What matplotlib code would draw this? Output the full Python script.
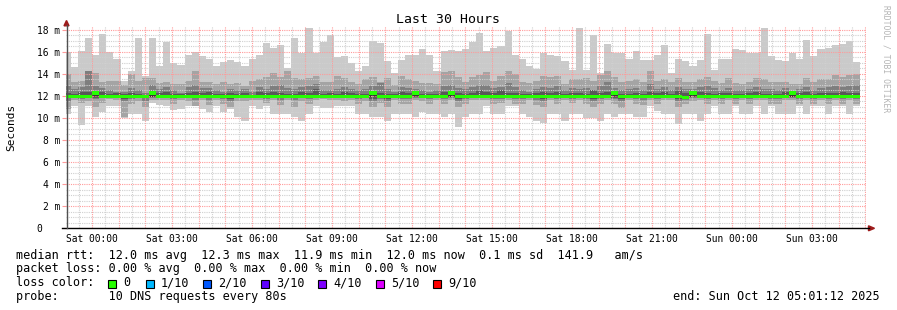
import numpy as np
import matplotlib
matplotlib.use("Agg")
import matplotlib.pyplot as plt
from matplotlib.lines import Line2D
from matplotlib.patches import Polygon, Rectangle

W, H = 897, 310
MONO = "DejaVu Sans Mono"

# 16 minute consolidation steps, time in hours from Sat 00:00
step_edges = np.arange(-4, 109) * 16 / 60
t_start, t_end = -(58.8 / 60), 29 + 1.2 / 60

# sorted pings per step (ms): p10 = max ... p1 = min
p10 = [16.0, 14.6, 16.1, 17.3, 15.75, 17.65, 16.0, 15.4,
       13.35, 14.3, 17.3, 13.8, 17.3, 14.7, 16.95, 15.0,
       14.8, 15.75, 16.0, 15.6, 15.4, 14.7, 15.05, 15.3,
       15.05, 14.7, 15.35, 15.75, 16.8, 16.35, 16.65, 14.5,
       17.3, 15.9, 18.15, 15.9, 16.95, 17.55, 15.55, 15.65,
       15.0, 14.25, 14.75, 17.0, 16.85, 15.2, 14.1, 15.3,
       15.75, 15.75, 16.25, 15.75, 14.25, 16.05, 16.2, 16.05,
       16.25, 16.95, 17.7, 16.05, 16.4, 16.5, 17.9, 15.75,
       15.35, 14.7, 14.45, 15.95, 15.75, 15.65, 15.15, 14.4,
       18.2, 14.35, 17.55, 14.1, 16.75, 15.95, 15.95, 15.35,
       16.05, 15.3, 15.3, 15.75, 16.65, 14.1, 15.4, 15.15,
       14.7, 15.3, 17.65, 14.35, 15.35, 15.35, 16.3, 16.2,
       15.95, 15.95, 18.15, 15.65, 15.3, 15.2, 15.9, 15.35,
       17.1, 15.6, 16.25, 16.4, 16.65, 16.7, 17.0, 15.1]
p9 = [14.0, 13.3, 13.4, 14.3, 14.1, 13.3, 13.4, 13.4,
      13.0, 14.0, 13.4, 13.6, 13.6, 13.2, 13.3, 13.1,
      13.1, 13.4, 14.3, 13.3, 13.3, 13.1, 13.3, 13.1,
      13.2, 12.9, 13.4, 13.5, 13.7, 14.1, 13.7, 14.3,
      13.6, 13.5, 13.6, 13.8, 13.3, 13.3, 13.8, 13.6,
      13.3, 13.1, 13.5, 13.7, 13.3, 13.6, 13.0, 13.8,
      13.5, 13.4, 13.2, 13.2, 13.1, 14.2, 14.3, 13.7,
      13.3, 13.7, 13.9, 14.2, 13.4, 13.8, 14.3, 14.0,
      13.3, 13.2, 13.4, 13.8, 13.7, 13.8, 13.1, 13.5,
      13.5, 13.6, 13.4, 13.9, 14.3, 13.7, 13.3, 13.4,
      13.5, 13.3, 14.3, 13.4, 13.5, 13.3, 13.6, 13.3,
      13.3, 13.5, 13.7, 13.4, 13.2, 13.6, 13.2, 13.1,
      13.3, 13.6, 13.5, 13.3, 13.3, 13.3, 13.1, 13.1,
      13.6, 13.3, 13.5, 13.5, 13.9, 13.7, 13.9, 14.0]
p8 = [12.9, 12.6, 12.8, 14.3, 12.9, 12.7, 12.5, 12.4,
      12.4, 12.7, 12.5, 12.3, 13.0, 12.6, 12.8, 12.5,
      12.3, 12.8, 13.0, 12.7, 12.7, 12.5, 12.4, 12.6,
      12.5, 12.6, 12.4, 12.8, 12.6, 12.9, 13.0, 12.7,
      12.6, 12.8, 12.9, 13.1, 12.5, 12.5, 12.6, 12.8,
      12.6, 12.5, 12.6, 12.9, 13.2, 12.6, 12.4, 12.8,
      12.7, 12.6, 12.5, 12.4, 12.5, 12.9, 13.0, 12.7,
      12.6, 12.8, 13.0, 13.0, 12.7, 12.8, 13.2, 12.8,
      12.5, 12.4, 12.6, 12.8, 12.7, 12.9, 12.5, 12.7,
      12.6, 12.7, 12.5, 12.9, 13.3, 12.7, 12.5, 12.6,
      12.7, 12.5, 13.1, 12.6, 12.8, 12.5, 12.8, 12.6,
      12.6, 12.8, 12.9, 12.7, 12.5, 12.7, 12.5, 12.5,
      12.6, 12.8, 12.6, 12.6, 12.5, 12.7, 12.4, 12.6,
      12.8, 12.5, 12.7, 12.8, 12.9, 12.8, 12.9, 13.0]
p7 = [12.3, 12.2, 12.4, 12.4, 12.35, 12.4, 12.2, 12.3,
      12.2, 12.3, 12.2, 12.1, 12.35, 12.3, 12.4, 12.2,
      12.2, 12.3, 12.4, 12.3, 12.4, 12.2, 12.2, 12.3,
      12.2, 12.3, 12.1, 12.4, 12.3, 12.4, 12.3, 12.2,
      12.2, 12.4, 12.3, 12.6, 12.2, 12.3, 12.2, 12.4,
      12.3, 12.2, 12.2, 12.4, 12.3, 12.2, 12.2, 12.4,
      12.3, 12.4, 12.2, 12.2, 12.2, 12.4, 12.35, 12.3,
      12.2, 12.3, 12.5, 12.4, 12.3, 12.5, 12.3, 12.3,
      12.2, 12.2, 12.3, 12.4, 12.3, 12.4, 12.2, 12.3,
      12.3, 12.2, 12.5, 12.3, 12.4, 12.35, 12.2, 12.2,
      12.3, 12.2, 12.4, 12.3, 12.4, 12.2, 12.5, 12.3,
      12.35, 12.4, 12.3, 12.2, 12.3, 12.3, 12.2, 12.2,
      12.3, 12.4, 12.2, 12.2, 12.2, 12.4, 12.35, 12.3,
      12.4, 12.2, 12.3, 12.3, 12.3, 12.4, 12.3, 12.3]
p6 = [12.04, 12.04, 12.04, 12.04, 12.18, 12.04, 12.04, 12.04,
      12.04, 12.04, 12.04, 12.04, 12.18, 12.04, 12.04, 12.04,
      12.04, 12.04, 12.04, 12.04, 12.04, 12.04, 12.04, 12.04,
      12.04, 12.04, 12.04, 12.04, 12.04, 12.04, 12.04, 12.04,
      12.04, 12.04, 12.04, 12.04, 12.04, 12.04, 12.04, 12.04,
      12.04, 12.04, 12.04, 12.18, 12.04, 12.04, 12.04, 12.04,
      12.04, 12.18, 12.04, 12.04, 12.04, 12.04, 12.18, 12.04,
      12.04, 12.04, 12.04, 12.04, 12.04, 12.04, 12.04, 12.04,
      12.04, 12.04, 12.04, 12.04, 12.04, 12.04, 12.04, 12.04,
      12.04, 12.04, 12.04, 12.04, 12.04, 12.18, 12.04, 12.04,
      12.04, 12.04, 12.04, 12.04, 12.04, 12.04, 12.04, 12.0,
      12.18, 12.04, 12.04, 12.04, 12.04, 12.04, 12.04, 12.04,
      12.04, 12.04, 12.04, 12.04, 12.04, 12.04, 12.18, 12.04,
      12.04, 12.04, 12.04, 12.04, 12.04, 12.04, 12.04, 12.04]
p5 = [11.92, 11.92, 11.92, 11.92, 11.9, 11.92, 11.92, 11.92,
      11.92, 11.92, 11.92, 11.92, 11.9, 11.92, 11.92, 11.92,
      11.92, 11.92, 11.92, 11.92, 11.92, 11.92, 11.92, 11.92,
      11.92, 11.92, 11.92, 11.92, 11.92, 11.92, 11.92, 11.92,
      11.92, 11.92, 11.92, 11.92, 11.92, 11.92, 11.92, 11.92,
      11.92, 11.92, 11.92, 11.9, 11.92, 11.92, 11.92, 11.92,
      11.92, 11.9, 11.92, 11.92, 11.92, 11.92, 11.9, 11.92,
      11.92, 11.92, 11.92, 11.92, 11.92, 11.92, 11.92, 11.92,
      11.92, 11.92, 11.92, 11.92, 11.92, 11.92, 11.92, 11.92,
      11.92, 11.92, 11.92, 11.92, 11.92, 11.9, 11.92, 11.92,
      11.92, 11.92, 11.92, 11.92, 11.92, 11.92, 11.92, 11.8,
      11.9, 11.92, 11.92, 11.92, 11.92, 11.92, 11.92, 11.92,
      11.92, 11.92, 11.92, 11.92, 11.92, 11.92, 11.9, 11.92,
      11.92, 11.92, 11.92, 11.92, 11.92, 11.92, 11.92, 11.92]
p4 = [11.8, 11.88, 11.85, 11.88, 11.85, 11.88, 11.88, 11.88,
      11.7, 11.85, 11.88, 11.8, 11.88, 11.88, 11.88, 11.85,
      11.88, 11.88, 11.8, 11.88, 11.8, 11.88, 11.85, 11.75,
      11.88, 11.88, 11.88, 11.88, 11.85, 11.88, 11.8, 11.88,
      11.8, 11.88, 11.85, 11.88, 11.88, 11.88, 11.88, 11.88,
      11.88, 11.85, 11.88, 11.75, 11.85, 11.75, 11.88, 11.85,
      11.85, 11.88, 11.88, 11.85, 11.88, 11.85, 11.88, 11.75,
      11.85, 11.88, 11.88, 11.88, 11.85, 11.85, 11.88, 11.85,
      11.85, 11.88, 11.8, 11.75, 11.88, 11.85, 11.88, 11.85,
      11.88, 11.85, 11.75, 11.85, 11.88, 11.85, 11.75, 11.88,
      11.85, 11.8, 11.88, 11.85, 11.88, 11.88, 11.75, 11.7,
      11.88, 11.88, 11.85, 11.88, 11.85, 11.88, 11.85, 11.88,
      11.85, 11.88, 11.88, 11.85, 11.85, 11.88, 11.88, 11.85,
      11.88, 11.85, 11.88, 11.85, 11.88, 11.85, 11.88, 11.85]
p3 = [11.5, 11.8, 11.7, 11.8, 11.7, 11.8, 11.85, 11.8,
      11.5, 11.7, 11.8, 11.5, 11.8, 11.8, 11.85, 11.7,
      11.85, 11.8, 11.6, 11.85, 11.6, 11.8, 11.7, 11.5,
      11.8, 11.8, 11.85, 11.8, 11.7, 11.85, 11.6, 11.8,
      11.6, 11.8, 11.7, 11.85, 11.85, 11.8, 11.85, 11.8,
      11.85, 11.7, 11.8, 11.5, 11.7, 11.5, 11.85, 11.7,
      11.7, 11.85, 11.8, 11.7, 11.85, 11.7, 11.8, 11.5,
      11.7, 11.85, 11.8, 11.85, 11.7, 11.7, 11.85, 11.7,
      11.7, 11.8, 11.6, 11.5, 11.85, 11.7, 11.8, 11.7,
      11.85, 11.7, 11.5, 11.7, 11.8, 11.7, 11.5, 11.85,
      11.7, 11.6, 11.85, 11.7, 11.8, 11.85, 11.5, 11.6,
      11.8, 11.85, 11.7, 11.8, 11.7, 11.85, 11.7, 11.85,
      11.7, 11.85, 11.8, 11.7, 11.7, 11.85, 11.8, 11.7,
      11.85, 11.7, 11.8, 11.7, 11.85, 11.7, 11.85, 11.7]
p2 = [10.8, 11.6, 11.4, 11.5, 11.0, 11.4, 11.7, 11.6,
      10.1, 11.3, 11.5, 11.0, 11.6, 11.6, 11.6, 11.3,
      11.6, 11.5, 11.1, 11.6, 11.2, 11.6, 11.3, 11.0,
      11.5, 11.5, 11.6, 11.6, 11.4, 11.6, 11.2, 11.6,
      11.0, 11.5, 11.3, 11.6, 11.7, 11.6, 11.6, 11.5,
      11.6, 11.3, 11.5, 11.0, 11.4, 11.0, 11.6, 11.3,
      11.3, 11.6, 11.5, 11.3, 11.6, 11.3, 11.6, 11.0,
      11.3, 11.6, 11.6, 11.6, 11.3, 11.4, 11.6, 11.3,
      11.3, 11.6, 11.2, 11.0, 11.6, 11.3, 11.6, 11.4,
      11.6, 11.3, 11.0, 11.3, 11.6, 11.3, 10.9, 11.6,
      11.3, 11.2, 11.6, 11.3, 11.6, 11.6, 11.0, 11.3,
      11.5, 11.6, 11.3, 11.6, 11.3, 11.6, 11.3, 11.6,
      11.3, 11.6, 11.6, 11.3, 11.3, 11.6, 11.6, 11.3,
      11.6, 11.3, 11.6, 11.3, 11.6, 11.3, 11.6, 11.3]
p1 = [10.35, 11.05, 9.35, 11.05, 10.1, 10.55, 11.05, 11.05,
      10.0, 10.35, 10.35, 9.75, 11.35, 11.15, 11.1, 10.7,
      10.8, 11.05, 11.05, 10.8, 10.5, 11.05, 10.5, 10.8,
      10.05, 9.75, 11.05, 10.8, 11.05, 10.35, 10.35, 10.35,
      10.05, 9.7, 10.35, 11.05, 10.95, 10.95, 11.05, 11.05,
      11.05, 10.35, 10.35, 10.05, 10.05, 9.75, 10.35, 10.35,
      10.35, 10.05, 10.5, 10.35, 10.35, 10.05, 10.35, 9.15,
      10.05, 10.35, 10.35, 11.05, 10.35, 10.35, 11.05, 11.05,
      10.35, 10.05, 9.7, 9.5, 10.35, 10.35, 9.75, 10.35,
      10.35, 10.0, 10.0, 9.75, 10.35, 10.05, 10.35, 10.35,
      10.05, 10.05, 11.05, 10.65, 10.35, 10.35, 9.45, 10.35,
      10.35, 9.75, 10.35, 11.05, 10.35, 10.35, 11.05, 10.35,
      10.35, 11.05, 10.35, 11.05, 10.35, 10.35, 10.35, 11.05,
      10.35, 11.05, 11.05, 10.35, 11.05, 11.05, 10.35, 11.05]
median = [11.96, 11.96, 11.96, 11.96, 12.27, 11.96, 11.96, 11.96,
          11.96, 11.96, 11.96, 11.96, 12.27, 11.96, 11.96, 11.96,
          11.96, 11.96, 11.96, 11.96, 11.96, 11.96, 11.96, 11.96,
          11.96, 11.96, 11.96, 11.96, 11.96, 11.96, 11.96, 11.96,
          11.96, 11.96, 11.96, 11.96, 11.96, 11.96, 11.96, 11.96,
          11.96, 11.96, 11.96, 12.27, 11.96, 11.96, 11.96, 11.96,
          11.96, 12.27, 11.96, 11.96, 11.96, 11.96, 12.27, 11.96,
          11.96, 11.96, 11.96, 11.96, 11.96, 11.96, 11.96, 11.96,
          11.96, 11.96, 11.96, 11.96, 11.96, 11.96, 11.96, 11.96,
          11.96, 11.96, 11.96, 11.96, 11.96, 12.27, 11.96, 11.96,
          11.96, 11.96, 11.96, 11.96, 11.96, 11.96, 11.96, 11.83,
          12.27, 11.96, 11.96, 11.96, 11.96, 11.96, 11.96, 11.96,
          11.96, 11.96, 11.96, 11.96, 11.96, 11.96, 12.27, 11.96,
          11.96, 11.96, 11.96, 11.96, 11.96, 11.96, 11.96, 11.96]

smoke_grays = ["#cacaca", "#a4a4a4", "#7e7e7e", "#585858", "#323232"]
loss_labels = ["0", "1/10", "2/10", "3/10", "4/10", "5/10", "9/10"]
loss_colors = ["#26ff00", "#00b8ff", "#0059ff", "#5e00ff", "#7e00ff", "#dd00ff", "#ff0000"]

tick_hours = list(range(0, 30))
tick_labels = [("Sat" if h < 24 else "Sun") + " %02d:00" % (h % 24) if h % 3 == 0 else ""
               for h in tick_hours]


def fxy(x, y):
    return x / W, 1 - y / H


fig = plt.figure(figsize=(W / 100, H / 100), dpi=100, facecolor="white")
ax = fig.add_axes([66 / W, 1 - 228 / H, 800 / W, (228 - 25.6) / H])
ax.set_facecolor("white")
ax.set_xlim(t_start, t_end)
ax.set_ylim(0, 18.4)

bands = [(p10, p1), (p9, p2), (p8, p3), (p7, p4), (p6, p5)]
for (hi, lo), c in zip(bands, smoke_grays):
    ax.stairs(hi, step_edges, baseline=lo, fill=True, color=c, lw=0, zorder=1)
med = np.array(median)
ax.stairs(med + 0.14, step_edges, baseline=med - 0.14, fill=True,
          color=loss_colors[0], lw=0, zorder=3)

# grid
dots = (0, (1, 1))
ax.set_xticks(tick_hours)
ax.set_xticklabels(tick_labels)
ax.set_xticks(np.arange(-0.5, 29.0, 1.0), minor=True)
ax.set_yticks(np.arange(0, 19, 2))
ax.set_yticklabels(["0   "] + ["%d m" % v for v in range(2, 19, 2)])
ax.set_yticks([v for v in np.arange(0.5, 18.4, 0.5) if v % 2], minor=True)
ax.set_axisbelow(False)
ax.grid(which="minor", color="#d0d0d0", lw=0.8, ls=dots)
ax.grid(which="major", color="#ff9a9a", lw=0.8, ls=dots)
ax.tick_params(axis="x", which="both", length=0, pad=4.4, labelsize=6.9)
ax.tick_params(axis="y", which="major", length=2.6, width=0.8, color="#ff9a9a",
               pad=1.6, labelsize=6.9)
ax.tick_params(axis="y", which="minor", length=0)
for lab in ax.get_xticklabels() + ax.get_yticklabels():
    lab.set_fontfamily(MONO)
for s in ax.spines.values():
    s.set_visible(False)

# axes with arrows
fig.add_artist(Line2D(*zip(fxy(62, 228.3), fxy(869, 228.3)), color="black", lw=1))
fig.add_artist(Line2D(*zip(fxy(66.5, 228.3), fxy(66.5, 25)), color="#505050", lw=1))
fig.add_artist(Polygon([fxy(64, 25.8), fxy(69, 25.8), fxy(66.5, 20.5)], closed=True,
                       color="#9e1b1b", transform=fig.transFigure))
fig.add_artist(Polygon([fxy(868.5, 225.8), fxy(868.5, 230.8), fxy(874.5, 228.3)], closed=True,
                       color="#9e1b1b", transform=fig.transFigure))

fig.text(*fxy(448, 19.5), "Last 30 Hours", ha="center", va="center",
         family=MONO, fontsize=9.5)
fig.text(*fxy(11, 127), "Seconds", ha="center", va="center", rotation=90,
         family=MONO, fontsize=8)
fig.text(*fxy(886, 5), "RRDTOOL / TOBI OETIKER", ha="center", va="top", rotation=270,
         family=MONO, fontsize=5.8, color="#b4b4b4")

leg = dict(family=MONO, fontsize=8.5, va="center", ha="left")
fig.text(*fxy(16, 255), "median rtt:  12.0 ms avg  12.3 ms max  11.9 ms min  "
         "12.0 ms now  0.1 ms sd  141.9   am/s", **leg)
fig.text(*fxy(16, 268.5), "packet loss: 0.00 % avg  0.00 % max  0.00 % min  0.00 % now", **leg)
fig.text(*fxy(16, 283), "loss color:", **leg)
sw_x = [108, 146, 203, 261, 318, 376, 433]
for x, lab, c in zip(sw_x, loss_labels, loss_colors):
    fig.add_artist(Rectangle(fxy(x, 287.5), 8 / W, 8 / H, facecolor=c, edgecolor="black",
                             lw=0.8, transform=fig.transFigure))
    fig.text(*fxy(x + 15, 283), lab, **leg)
fig.text(*fxy(16, 296.5), "probe:       10 DNS requests every 80s", **leg)
fig.text(*fxy(880, 296.5), "end: Sun Oct 12 05:01:12 2025", family=MONO, fontsize=8.5,
         va="center", ha="right")

fig.savefig("out.png", dpi=100, facecolor="white")
